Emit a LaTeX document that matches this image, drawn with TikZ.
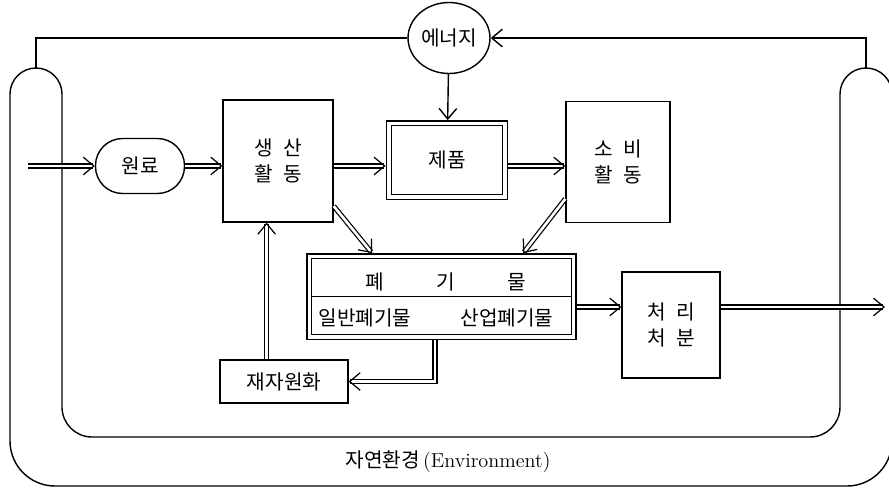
\documentclass[tikz,border=0pt]{standalone}
\usepackage{fontspec}
\newfontfamily\kr{Noto Sans CJK KR}
\usetikzlibrary{arrows.meta,shapes.geometric}

\begin{document}
\begin{tikzpicture}[x=0.02cm,y=-0.02cm,line width=0.8pt,
	box/.style={draw,rectangle,inner sep=0pt,align=center,font=\kr\fontsize{11.5}{15}\selectfont},
	dbox/.style={box,double,double distance=2pt,outer sep=1.8pt},
	lbl/.style={inner sep=1pt,font=\kr\fontsize{11.5}{15}\selectfont},
	flow/.style={double,double distance=1.5pt,line width=0.7pt,-{Straight Barb[length=6pt,width=10pt,line width=0.7pt]}},
	sarrow/.style={-{Straight Barb[length=6pt,width=10pt]}}]
\useasboundingbox (0,0) rectangle (889,491);
\clip (0,0) rectangle (889,491);

\draw[rounded corners=0.6cm] (62,94) -- (62,437) -- (840,437) -- (840,94);
\draw[rounded corners=0.9cm] (892,94) -- (892,486) -- (10,486) -- (10,94);
\draw (10,94) arc[start angle=180,end angle=360,radius=26];
\draw (840,94) arc[start angle=180,end angle=360,radius=26];

\node[box,ellipse,minimum width=1.64cm,minimum height=1.42cm] (enrg) at (449,38) {에너지};
\node[box,rounded corners=0.54cm,minimum width=1.78cm,minimum height=1.1cm] (raw) at (140,166) {원료};
\node[box,minimum width=2.2cm,minimum height=2.44cm] (prod) at (278,161) {생\hspace{0.5em}산\\활\hspace{0.5em}동};
\node[dbox,minimum width=2.33cm,minimum height=1.47cm] (good) at (447,160) {제품};
\node[box,minimum width=2.08cm,minimum height=2.42cm] (cons) at (618,162) {소\hspace{0.5em}비\\활\hspace{0.5em}동};
\node[dbox,minimum width=5.29cm,minimum height=1.61cm] (waste) at (441.5,296.5) {};
\node[box,minimum width=1.96cm,minimum height=2.12cm] (treat) at (671,325) {처\hspace{0.5em}리\\처\hspace{0.5em}분};
\node[box,minimum width=2.56cm,minimum height=0.86cm] (recyc) at (284,381.5) {재자원화};

\draw ([xshift=3.2pt]waste.west) -- ([xshift=-3.2pt]waste.east);
\node[lbl] (wtitle) at (446,282) {폐\hspace{2.6em}기\hspace{2.6em}물};
\node[lbl] (wgen) at (365,318) {일반폐기물};
\node[lbl] (wind) at (507,318) {산업폐기물};
\node[lbl] (env) at (448,462) {자연환경\,{\rmfamily(Environment)}};

\coordinate (src) at (28,166);
\coordinate (sink) at (885,307);
\coordinate (ltop) at (36,68);
\coordinate (rtop) at (866,68);
\coordinate (bend) at (435,383);

\draw (ltop) |- (enrg);
\draw[sarrow] (rtop) |- (enrg);
\draw[sarrow] (enrg) -- (good);
\draw[flow] (src) -- (raw.west);
\draw[flow] (raw.east) -- (raw.east -| prod.west);
\draw[flow] (prod.east |- raw.east) -- (good.west |- raw.east);
\draw[flow] (good.east |- raw.east) -- (cons.west |- raw.east);
\draw[flow] (prod.-39) -- (waste.148);
\draw[flow] (cons.215) -- (waste.28);
\draw[flow] (waste.east |- sink) -- (treat.west |- sink);
\draw[flow] (treat.east |- sink) -- (sink);
\draw[flow] (waste.south -| bend) |- (recyc.east);
\draw[flow] (recyc.128) -- (recyc.128 |- prod.south);
\end{tikzpicture}
\end{document}
